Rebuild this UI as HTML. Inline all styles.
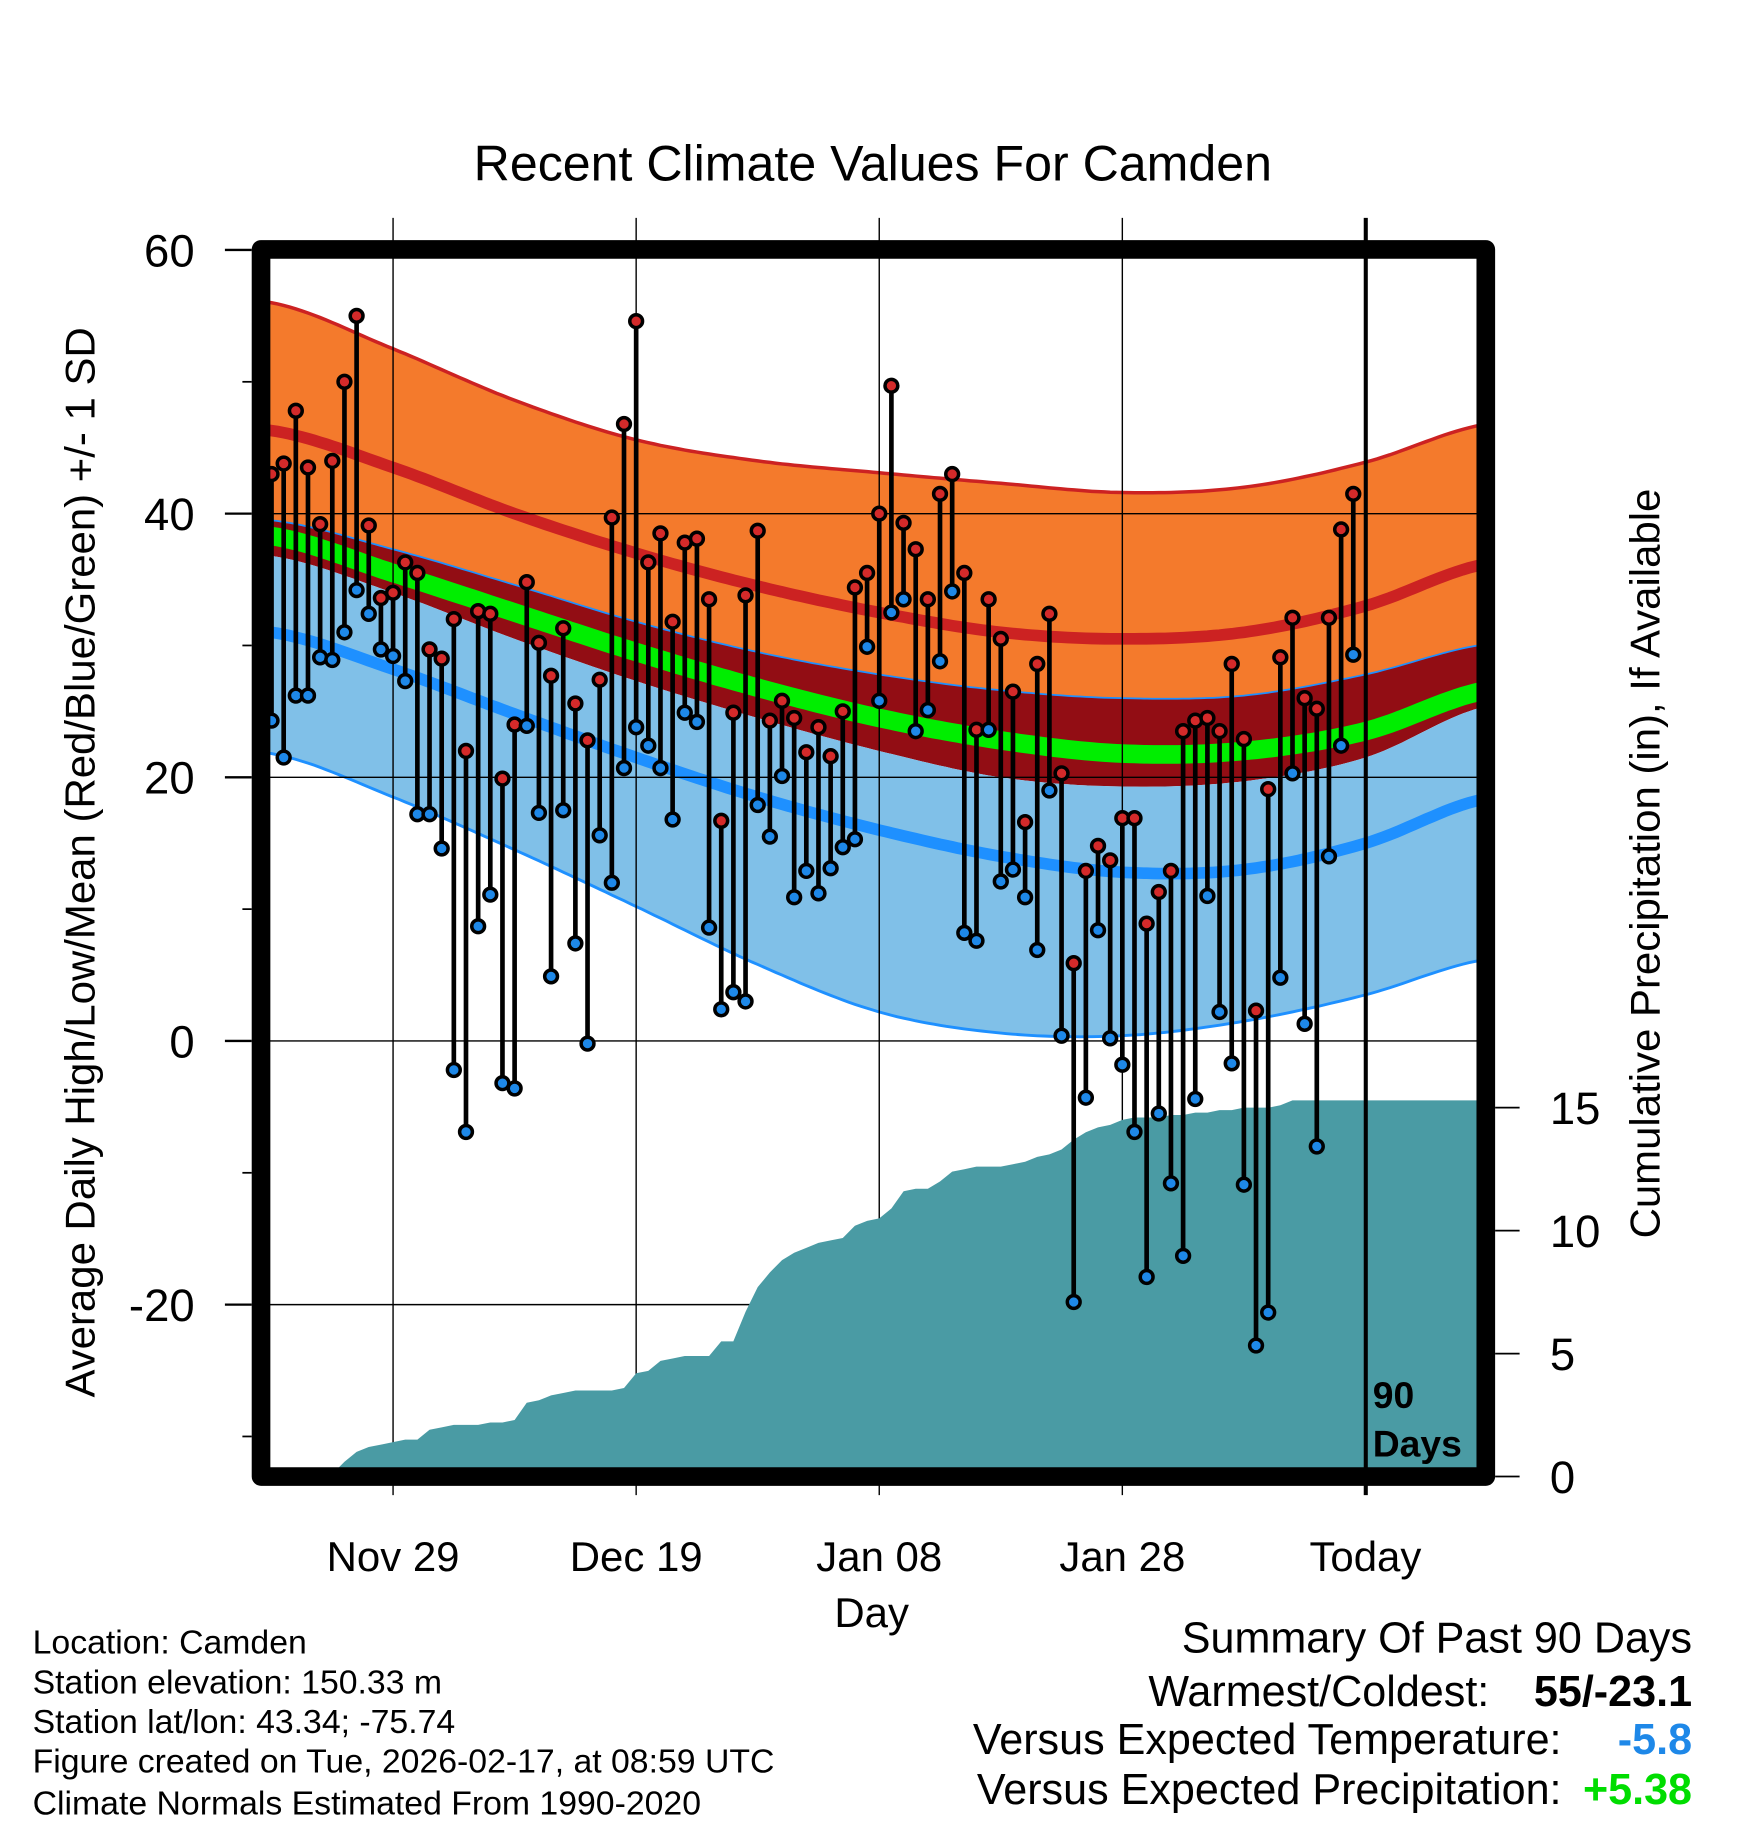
<!DOCTYPE html>
<html><head><meta charset="utf-8"><style>
html,body{margin:0;padding:0;background:#fff;}
svg{display:block;font-family:"Liberation Sans",Arial,sans-serif;}
</style></head><body>
<svg id="chart" width="1748" height="1828" viewBox="0 0 1500 1568.6" preserveAspectRatio="none" xmlns="http://www.w3.org/2000/svg">
<defs><clipPath id="plotclip"><rect x="224" y="214" width="1051" height="1053"/></clipPath></defs>
<rect width="1500" height="1568.6" fill="#fff"/>
<g id="bands" clip-path="url(#plotclip)"></g>
<g id="grid"></g>
<g id="precip" clip-path="url(#plotclip)"></g>
<g id="points"></g>
<line x1="1172" y1="187" x2="1172" y2="1283" stroke="#000" stroke-width="3.5"/>
<text x="1178" y="1208" font-size="32" font-weight="bold">90</text>
<text x="1178" y="1250" font-size="32" font-weight="bold">Days</text>
<rect x="224" y="214" width="1051" height="1053" fill="none" stroke="#000" stroke-width="16" stroke-linejoin="round"/>
<g id="axes"></g>
<text x="749" y="155" font-size="43" text-anchor="middle">Recent Climate Values For Camden</text>
<text transform="translate(81,740) rotate(-90)" font-size="36" text-anchor="middle">Average Daily High/Low/Mean (Red/Blue/Green) +/- 1 SD</text>
<text transform="translate(1424,741) rotate(-90)" font-size="36" text-anchor="middle">Cumulative Precipitation (in), If Available</text>
<text x="748" y="1396" font-size="36" text-anchor="middle">Day</text>
<g font-size="29">
<text x="28" y="1419">Location: Camden</text>
<text x="28" y="1453">Station elevation: 150.33 m</text>
<text x="28" y="1487">Station lat/lon: 43.34; -75.74</text>
<text x="28" y="1521">Figure created on Tue, 2026-02-17, at 08:59 UTC</text>
<text x="28" y="1557">Climate Normals Estimated From 1990-2020</text>
</g>
<g font-size="37" text-anchor="end">
<text x="1452" y="1418">Summary Of Past 90 Days</text>
<text x="1278" y="1464">Warmest/Coldest:</text>
<text x="1452" y="1464" font-weight="bold">55/-23.1</text>
<text x="1340" y="1505">Versus Expected Temperature:</text>
<text x="1452" y="1505" font-weight="bold" fill="#1E88E8">-5.8</text>
<text x="1340" y="1548">Versus Expected Precipitation:</text>
<text x="1452" y="1548" font-weight="bold" fill="#00DD00">+5.38</text>
</g>
</svg>
<script>
const highs = [43,43.8,47.8,43.5,39.2,44,50,55,39.1,33.6,34,36.3,35.5,29.7,29,32,22,32.6,32.4,19.9,24,34.8,30.2,27.7,31.3,25.6,22.8,27.4,39.7,46.8,54.6,36.3,38.5,31.8,37.8,38.1,33.5,16.7,24.9,33.8,38.7,24.3,25.8,24.5,21.9,23.8,21.6,25,34.4,35.5,40,49.7,39.3,37.3,33.5,41.5,43,35.5,23.6,33.5,30.5,26.5,16.6,28.6,32.4,20.3,5.9,12.9,14.8,13.7,16.9,16.9,8.9,11.3,12.9,23.5,24.3,24.5,23.5,28.6,22.9,2.3,19.1,29.1,32.1,26,25.2,32.1,38.8,41.5];
const lows = [24.3,21.5,26.2,26.2,29.1,28.9,31,34.2,32.4,29.7,29.2,27.3,17.2,17.2,14.6,-2.2,-6.9,8.7,11.1,-3.2,-3.6,23.9,17.3,4.9,17.5,7.4,-0.2,15.6,12,20.7,23.8,22.4,20.7,16.8,24.9,24.2,8.6,2.4,3.7,3,17.9,15.5,20.1,10.9,12.9,11.2,13.1,14.7,15.3,29.9,25.8,32.5,33.5,23.5,25.1,28.8,34.1,8.2,7.6,23.6,12.1,13,10.9,6.9,19,0.4,-19.8,-4.3,8.4,0.2,-1.8,-6.9,-17.9,-5.5,-10.8,-16.3,-4.4,11,2.2,-1.7,-10.9,-23.1,-20.6,4.8,20.3,1.3,-8,14,22.4,29.3];
const precip = [0,0,0,0,0,0.1,0.6,1.0,1.2,1.3,1.4,1.5,1.5,1.9,2.0,2.1,2.1,2.1,2.2,2.2,2.3,3.0,3.1,3.3,3.4,3.5,3.5,3.5,3.5,3.6,4.2,4.3,4.7,4.8,4.9,4.9,4.9,5.5,5.5,6.7,7.7,8.3,8.8,9.1,9.3,9.5,9.6,9.7,10.2,10.4,10.5,10.9,11.6,11.7,11.7,12.0,12.4,12.5,12.6,12.6,12.6,12.7,12.8,13.0,13.1,13.3,13.7,14.0,14.2,14.3,14.5,14.6,14.6,14.6,14.7,14.7,14.8,14.8,14.9,14.9,15.0,15.0,15.0,15.1,15.3,15.3,15.3,15.3,15.3,15.3];
const normalDays = [0,10,20,30,40,50,60,70,80,90,100];
const highPlusSD = [56,52.5,48.6,45.6,44,43.1,42.3,41.6,42,43.9,46.8];
const meanHigh = [46.3,43.5,40,37,34.5,32.5,31,30.5,31,33,36.2];
const highMinusSD = [39.5,37.3,34.6,31.8,29.5,27.8,26.6,26,26.2,27.8,30.1];
const meanAvg = [38.3,35.5,32.5,29.5,26.8,24.5,22.8,21.8,22,23.5,26.6];
const lowPlusSD = [36.8,34,30.5,27.3,24.5,22,20,19.3,19.7,21.5,25.4];
const meanLow = [31,28.2,24.8,21.5,18.5,16,14,12.8,13,15,18.4];
const lowMinusSD = [21.8,18.5,14.5,10.2,5.8,2.2,0.6,0.4,1.5,3.5,6.2];
const tempTicks = [60,40,20,0,-20];
const tempMinorTicks = [50,30,10,-10,-30];
const precipTicks = [0,5,10,15];
const dateLabels = ["Nov 29","Dec 19","Jan 08","Jan 28","Today"];
const dateLabelDays = [10,30,50,70,90];

const NS="http://www.w3.org/2000/svg";
const X0=233, DX=10.43;
const xDay=d=>X0+DX*d;
const yT=v=>893.25-v*11.3125;
const yP=v=>1267-v*21.1;
function mk(tag,attrs,parent){const e=document.createElementNS(NS,tag);for(const k in attrs)e.setAttribute(k,attrs[k]);parent.appendChild(e);return e;}
function interp(vals,d){
  const n=normalDays.length;let i=Math.floor(d/10);if(i<0)i=0;if(i>n-2)i=n-2;
  const t=(d-normalDays[i])/(normalDays[i+1]-normalDays[i]);
  const p0=vals[Math.max(i-1,0)],p1=vals[i],p2=vals[i+1],p3=vals[Math.min(i+2,n-1)];
  const m1=(p2-p0)/2,m2=(p3-p1)/2;const t2=t*t,t3=t2*t;
  return (2*t3-3*t2+1)*p1+(t3-2*t2+t)*m1+(-2*t3+3*t2)*p2+(t3-t2)*m2;
}
function pts(vals){const a=[];for(let d=-1;d<=100;d+=0.5)a.push([xDay(d),yT(interp(vals,d))]);return a;}
function line(a){return a.map((p,i)=>(i?'L':'M')+p[0].toFixed(1)+','+p[1].toFixed(1)).join('');}
function band(up,lo){const a=pts(up),b=pts(lo).reverse();return line(a)+b.map(p=>'L'+p[0].toFixed(1)+','+p[1].toFixed(1)).join('')+'Z';}

const bands=document.getElementById('bands');
let e;
e=mk('path',{d:band(highPlusSD,highMinusSD),fill:'#F47A2C'},bands);


e=mk('path',{d:band(highMinusSD,lowPlusSD),fill:'#920D14'},bands);


e=mk('path',{d:band(lowPlusSD,lowMinusSD),fill:'#80C0E8'},bands);


e=mk('path',{d:line(pts(highPlusSD)),fill:'none',stroke:'#CC2222','stroke-width':3},bands);


e=mk('path',{d:line(pts(meanHigh)),fill:'none',stroke:'#CC2222','stroke-width':10},bands);


e=mk('path',{d:line(pts(highMinusSD)),fill:'none',stroke:'#1E90FF','stroke-width':1.5},bands);


e=mk('path',{d:line(pts(meanAvg)),fill:'none',stroke:'#00EE00','stroke-width':16},bands);


e=mk('path',{d:line(pts(meanLow)),fill:'none',stroke:'#1E90FF','stroke-width':10},bands);


e=mk('path',{d:line(pts(lowMinusSD)),fill:'none',stroke:'#1E90FF','stroke-width':2.5},bands);



const grid=document.getElementById('grid');
tempTicks.forEach(v=>{
  const g=mk('line',{x1:224,x2:1275,y1:yT(v),y2:yT(v),stroke:'#000','stroke-width':1.2},grid);
  
  
});
dateLabelDays.forEach((d,i)=>{
  if(i===dateLabelDays.length-1)return;
  const g=mk('line',{x1:xDay(d),x2:xDay(d),y1:187,y2:1283,stroke:'#000','stroke-width':1.2},grid);
  
  
});

const pg=document.getElementById('precip');
let pd='M'+xDay(0)+','+yP(0);
precip.forEach((v,i)=>{pd+='L'+xDay(i).toFixed(1)+','+yP(v).toFixed(1);});
pd+='L1280,'+yP(precip[precip.length-1]).toFixed(1)+'L1280,1270L'+xDay(0)+',1270Z';
e=mk('path',{d:pd,fill:'#4A9BA4'},pg);



const pts_g=document.getElementById('points');
highs.forEach((h,i)=>{
  const x=xDay(i);
  const s=mk('line',{x1:x,x2:x,y1:yT(h),y2:yT(lows[i]),stroke:'#000','stroke-width':4},pts_g);
  
  
});
highs.forEach((h,i)=>{
  const x=xDay(i);
  const c1=mk('circle',{cx:x,cy:yT(h),r:5.5,fill:'#D42A2A',stroke:'#000','stroke-width':3},pts_g);
  
  
  const c2=mk('circle',{cx:x,cy:yT(lows[i]),r:5.5,fill:'#1E88E8',stroke:'#000','stroke-width':3},pts_g);
  
  
});

const ax=document.getElementById('axes');
tempTicks.forEach(v=>{
  const t=mk('line',{x1:193,x2:216,y1:yT(v),y2:yT(v),stroke:'#000','stroke-width':2},ax);
  
  
  const l=mk('text',{x:167,y:yT(v)+14,'font-size':39,'text-anchor':'end'},ax);
  l.textContent=String(v);
  
  
});
tempMinorTicks.forEach(v=>{
  const t=mk('line',{x1:208,x2:216,y1:yT(v),y2:yT(v),stroke:'#000','stroke-width':1.5},ax);
  
  
});
precipTicks.forEach(v=>{
  const t=mk('line',{x1:1283,x2:1304,y1:yP(v),y2:yP(v),stroke:'#000','stroke-width':1.5},ax);
  
  
  const l=mk('text',{x:1330,y:yP(v)+14,'font-size':39},ax);
  l.textContent=String(v);
  
  
});
dateLabels.forEach((s,i)=>{
  const l=mk('text',{x:xDay(dateLabelDays[i]),y:1348,'font-size':36,'text-anchor':'middle'},ax);
  l.textContent=s;
  
  
});
</script>
</body></html>
